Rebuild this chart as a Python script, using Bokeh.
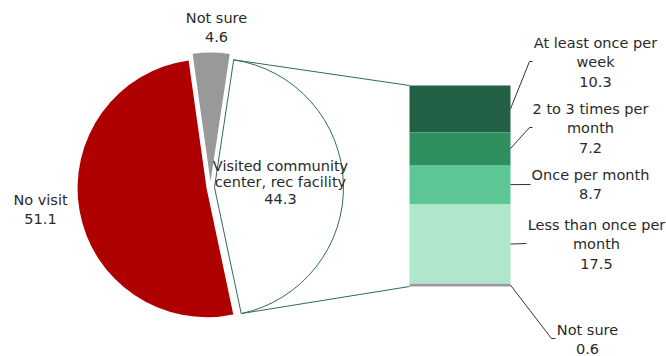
import math
from bokeh.plotting import figure
from bokeh.models import Range1d, ColumnDataSource
from bokeh.core.properties import value
from bokeh.embed import file_html
from bokeh.resources import INLINE

# ---- data ----
pie_labels = ["No visit", "Visited community\ncenter, rec facility", "Not sure"]
pie_values = [51.1, 44.3, 4.6]
pie_colors = ["#AF0000", "#FFFFFF", "#999999"]

bar_labels = ["At least once per\nweek", "2 to 3 times per\nmonth", "Once per month",
              "Less than once per\nmonth", "Not sure"]
bar_values = [10.3, 7.2, 8.7, 17.5, 0.6]
bar_colors = ["#226145", "#2F8F5E", "#5CC794", "#B0E6CC", "#999999"]

FONT = "DejaVu Sans"
FSIZE = "14.5px"
TXT = "#2A2A2A"
H = 356  # image height, used to flip y


def Y(y_img):
    return H - y_img


p = figure(width=666, height=356, output_backend="svg", toolbar_location=None,
           x_range=Range1d(0, 666), y_range=Range1d(0, 356), min_border=0)
p.axis.visible = False
p.grid.visible = False
p.outline_line_color = None

# ---- pie ----
cx, cy, R = 210, Y(187), 129
explode = [4, 4, 6]
total = sum(pie_values)
start = math.radians(98)
angles = []
a = start
for v in pie_values:
    b = a + v / total * 2 * math.pi
    angles.append((a, b))
    a = b

centers = []
for (a0, a1), ex, col in zip(angles, explode, pie_colors):
    mid = (a0 + a1) / 2
    x0 = cx + ex * math.cos(mid)
    y0 = cy + ex * math.sin(mid)
    centers.append((x0, y0))
    if col == "#FFFFFF":
        p.wedge(x=x0, y=y0, radius=R, start_angle=a0, end_angle=a1,
                fill_color=col, line_color="#2F6B5A", line_width=1)
    else:
        p.wedge(x=x0, y=y0, radius=R, start_angle=a0, end_angle=a1,
                fill_color=col, line_color=None)

# ---- bar ----
bx0, bx1 = 409, 510
bar_top_img, bar_bot_img = 85, 286
k = (bar_bot_img - bar_top_img) / sum(bar_values)
tops, bots = [], []
cum = 0
for v in bar_values:
    tops.append(Y(bar_top_img) - cum * k)
    cum += v
    bots.append(Y(bar_top_img) - cum * k)
src = ColumnDataSource(dict(top=tops, bottom=bots, color=bar_colors))
p.quad(left=bx0, right=bx1, top="top", bottom="bottom", fill_color="color",
       line_color=None, source=src)

# connector lines from visited slice to bar
wx, wy = centers[1]
a0, a1 = angles[1]
top_corner = (wx + R * math.cos(a1), wy + R * math.sin(a1))
bot_corner = (wx + R * math.cos(a0), wy + R * math.sin(a0))
p.line([top_corner[0], bx0], [top_corner[1], tops[0]], line_color="#2F6B5A", line_width=1)
p.line([bot_corner[0], bx0], [bot_corner[1], bots[-1]], line_color="#2F6B5A", line_width=1)

# ---- bar labels & leaders ----
lab_pos = [(595, 62), (590, 128), (590, 184), (596, 244), (587, 339)]
leader_pts = [[(529, 61), (532, 61)], [(529, 127), (532, 127)], [(530, 184)],
              [(526, 243)], [(551, 338), (555, 338)]]
for lab, v, (lx, ly), pts, t, b in zip(bar_labels, bar_values, lab_pos, leader_pts, tops, bots):
    xs = [bx1] + [q[0] for q in pts]
    ys = [(t + b) / 2] + [Y(q[1]) for q in pts]
    p.line(xs, ys, line_color="#333333", line_width=1)
    p.text(x=[lx], y=[Y(ly)], text=[f"{lab}\n{v}"], text_align="center",
           text_baseline="middle", text_font=value(FONT), text_font_size=FSIZE,
           text_color=TXT, text_line_height=1.24)

# ---- pie labels ----
pie_lab_pos = [(40, 209), (280, 182), (216, 27)]
pie_lh = [1.2, 1.05, 1.2]
for lab, v, (lx, ly), lh in zip(pie_labels, pie_values, pie_lab_pos, pie_lh):
    p.text(x=[lx], y=[Y(ly)], text=[f"{lab}\n{v}"], text_align="center",
           text_baseline="middle", text_font=value(FONT), text_font_size=FSIZE,
           text_color=TXT, text_line_height=lh)

open("out.html", "w").write(file_html(p, INLINE))
